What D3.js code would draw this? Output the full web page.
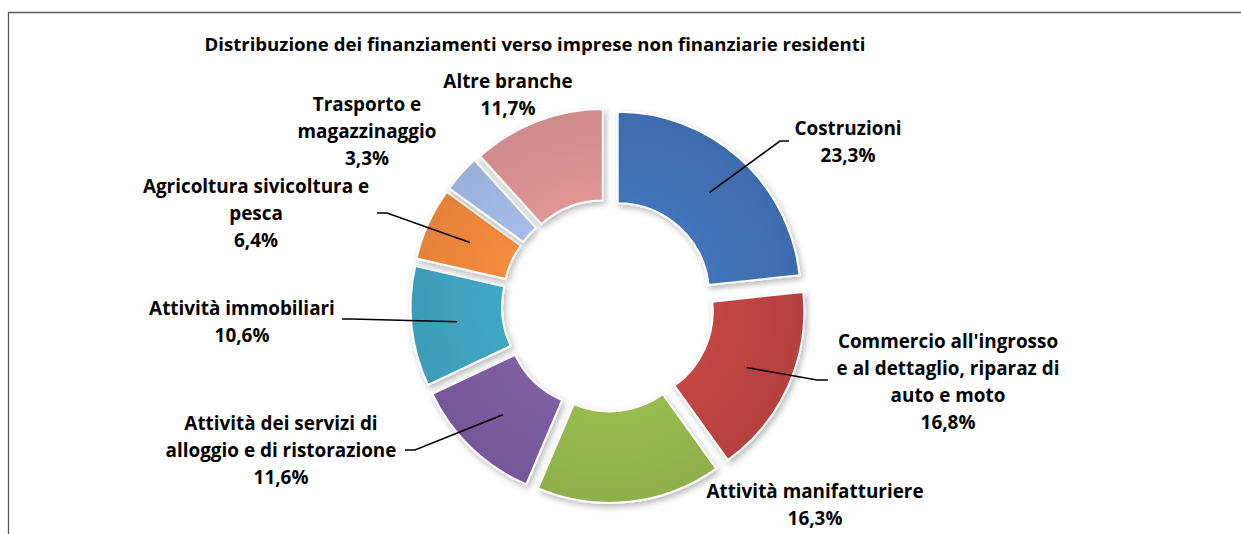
<!DOCTYPE html>
<html>
<head>
<meta charset="utf-8">
<title>Distribuzione dei finanziamenti</title>
<script src="https://d3js.org/d3.v7.min.js"></script>
<style>
  body { margin: 0; background: #fff; }
  text { font-family: "Open Sans", Lato, sans-serif; font-weight: bold; fill: #000; }
</style>
</head>
<body>
<div id="chart"></div>
<script>
  // data, clockwise from 12 o'clock
  var categories = ["Costruzioni", "Commercio", "Manifatturiere", "Alloggio e ristorazione",
    "Immobiliari", "Agricoltura", "Trasporto", "Altre branche"];
  var values = [23.3, 16.8, 16.3, 11.6, 10.6, 6.4, 3.3, 11.7];
  var labelLines = [
    ["Costruzioni"],
    ["Commercio all'ingrosso", "e al dettaglio, riparaz di", "auto e moto"],
    ["Attività manifatturiere"],
    ["Attività dei servizi di", "alloggio e di ristorazione"],
    ["Attività immobiliari"],
    ["Agricoltura sivicoltura e", "pesca"],
    ["Trasporto e", "magazzinaggio"],
    ["Altre branche"]
  ];
  var colors = ["#3f6eb0", "#b8423f", "#91b24c", "#78599b", "#3e9fba", "#e9843a", "#9db3df", "#d48e8d"];

  // layout
  var W = 1241, H = 534;
  var cx = 608, cy = 305.5, rIn = 91.5, rOut = 183, explode = 14.5;
  var lineH = 27;
  // label anchor (centre x, first baseline) and leader elbow for each slice
  var labelPos = [[848, 135], [948, 348], [815, 498], [281, 430], [242, 315], [256, 193], [367, 111], [508, 88]];
  var leaders = [[[780, 141], [789, 141]], [[817, 380], [828, 380]], null, [[415, 450], [405, 450]],
    [[352, 319], [342, 319]], [[387, 213], [377, 213]], null, null];

  var svg = d3.select("#chart").append("svg")
    .attr("width", W).attr("height", H);

  // frame
  svg.append("path")
    .attr("d", "M8.5," + H + "V12.5H" + W)
    .attr("fill", "none").attr("stroke", "#595959").attr("stroke-width", 1.3);

  svg.append("text")
    .attr("x", 535).attr("y", 51)
    .attr("text-anchor", "middle")
    .style("font-size", "18.6px")
    .text("Distribuzione dei finanziamenti verso imprese non finanziarie residenti");

  var defs = svg.append("defs");
  var f = defs.append("filter").attr("id", "shadow")
    .attr("x", "-20%").attr("y", "-20%").attr("width", "140%").attr("height", "140%");
  f.append("feDropShadow").attr("dx", 2).attr("dy", 3).attr("stdDeviation", 3)
    .attr("flood-color", "#000").attr("flood-opacity", 0.28);

  colors.forEach(function (c, i) {
    var g = defs.append("radialGradient").attr("id", "grad" + i)
      .attr("gradientUnits", "userSpaceOnUse")
      .attr("cx", 0).attr("cy", 0).attr("r", rOut);
    g.append("stop").attr("offset", "50%").attr("stop-color", d3.color(c).brighter(0.15));
    g.append("stop").attr("offset", "100%").attr("stop-color", d3.color(c).darker(0.05));
  });

  var pie = d3.pie().sort(null).value(function (d) { return d; });
  var arcs = pie(values);
  var arc = d3.arc().innerRadius(rIn).outerRadius(rOut);

  function offset(d) {
    var a = (d.startAngle + d.endAngle) / 2;
    return [explode * Math.sin(a), -explode * Math.cos(a)];
  }

  var g = svg.append("g").attr("transform", "translate(" + cx + "," + cy + ")");

  g.selectAll("path.slice")
    .data(arcs)
    .enter()
    .append("path")
    .attr("class", "slice")
    .attr("transform", function (d) { var o = offset(d); return "translate(" + o[0] + "," + o[1] + ")"; })
    .attr("d", arc)
    .attr("fill", function (d, i) { return "url(#grad" + i + ")"; })
    .attr("stroke", "#fdfdfd")
    .attr("stroke-width", 2)
    .attr("filter", "url(#shadow)");

  // leader lines from the slice centroid
  arcs.forEach(function (d, i) {
    if (!leaders[i]) return;
    var o = offset(d), c = arc.centroid(d);
    var pts = [[cx + o[0] + c[0], cy + o[1] + c[1]]].concat(leaders[i]);
    svg.append("path")
      .attr("d", d3.line()(pts))
      .attr("fill", "none").attr("stroke", "#000").attr("stroke-width", 1.6);
  });

  // labels
  arcs.forEach(function (d, i) {
    var lines = labelLines[i].concat([values[i].toFixed(1).replace(".", ",") + "%"]);
    var t = svg.append("text")
      .attr("text-anchor", "middle")
      .style("font-size", "18.9px");
    lines.forEach(function (s, k) {
      t.append("tspan")
        .attr("x", labelPos[i][0])
        .attr("y", labelPos[i][1] + k * lineH)
        .text(s);
    });
  });
</script>
</body>
</html>
